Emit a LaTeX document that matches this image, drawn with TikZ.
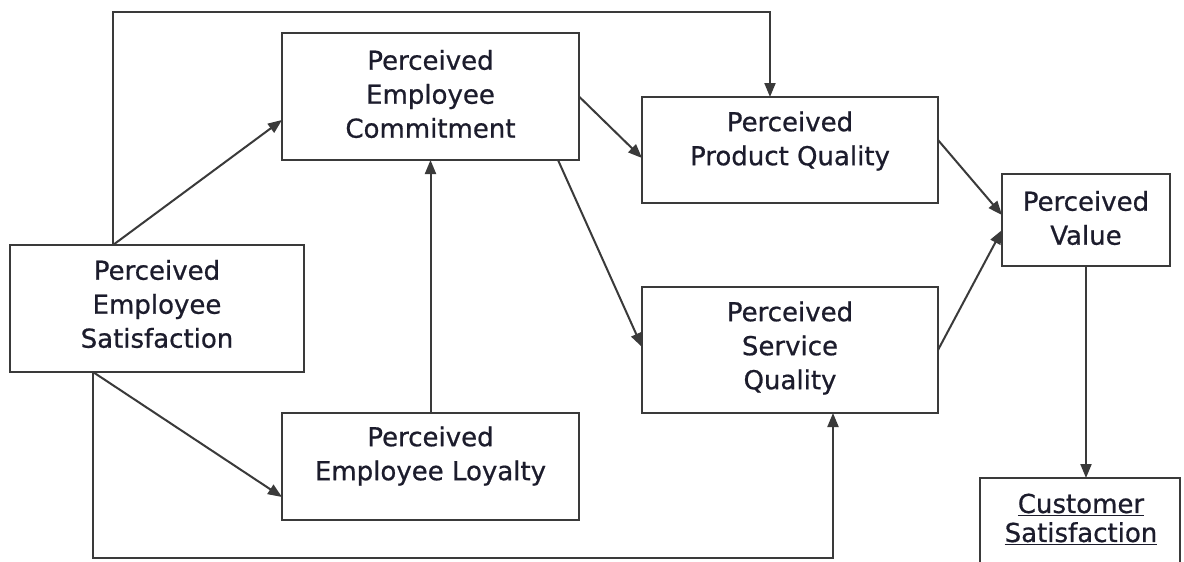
\documentclass[tikz,border=0pt]{standalone}
\usepackage{fontspec}
\setmainfont{DejaVu Sans}
\newfontfamily\lblfont{DejaVu Sans}[FakeBold=0.7]
\usetikzlibrary{arrows.meta,calc}
\definecolor{linec}{HTML}{3A3A3A}
\definecolor{textc}{HTML}{1C1C2C}
\begin{document}
\begin{tikzpicture}[x=1pt,y=-1pt,
  box/.style={draw=linec,line width=2pt,fill=white,inner sep=0pt,outer sep=0pt},
  lbl/.style={text=textc,align=center,inner sep=0pt,font=\lblfont\fontsize{26}{34}\selectfont},
  arr/.style={draw=linec,line width=2pt,-{Triangle[length=14pt,width=11pt]}}]
\useasboundingbox (0,0) rectangle (1184,562);
\clip (0,0) rectangle (1184,562);
\fill[white] (0,0) rectangle (1184,562);
% boxes
\node[box,minimum width=294pt,minimum height=127pt] (pes) at (157,308.5) {};
\node[box,minimum width=297pt,minimum height=127pt] (pec) at (430.5,96.5) {};
\node[box,minimum width=297pt,minimum height=107pt] (pel) at (430.5,466.5) {};
\node[box,minimum width=296pt,minimum height=106pt] (ppq) at (790,150) {};
\node[box,minimum width=296pt,minimum height=126pt] (psq) at (790,350) {};
\node[box,minimum width=168pt,minimum height=92pt] (pv) at (1086,220) {};
\node[box,minimum width=200pt,minimum height=102pt] (cs) at (1080,529) {};
% texts
\node[lbl] (pes-t) at (157,304) {Perceived\\Employee\\Satisfaction};
\node[lbl] (pec-t) at (430.5,94) {Perceived\\Employee\\Commitment};
\node[lbl] (pel-t) at (430.5,456) {Perceived\\Employee Loyalty};
\node[lbl] (ppq-t) at (790,141) {Perceived\\Product Quality};
\node[lbl] (psq-t) at (790,348) {Perceived\\Service\\Quality};
\node[lbl] (pv-t) at (1086,218) {Perceived\\Value};
\node[lbl,font=\lblfont\fontsize{26}{29}\selectfont] (cs-t) at (1081,519) {\underline{Customer}\\\underline{Satisfaction}};
% corner coordinates
\coordinate (tl) at (113,12);
\coordinate (tr) at (770,12);
\coordinate (bl) at (93,558);
\coordinate (br) at (833,558);
% connectors
\draw[arr] ([xshift=103pt]pes.north west) -- (tl) -- (tr) -- (tr |- ppq.north);
\draw[arr] ([xshift=103pt]pes.north west) -- ([yshift=-23.5pt]pec.west);
\draw[arr] ([xshift=83pt]pes.south west) -- ([yshift=-30.5pt]pel.west);
\draw[arr] ([xshift=83pt]pes.south west) -- (bl) -- (br) -- (br |- psq.south);
\draw[arr] (pel.north) -- (pec.south);
\draw[arr] (pec.east) -- ([yshift=-8pt]ppq.west);
\draw[arr] ([xshift=-21pt]pec.south east) -- ([yshift=3pt]psq.west);
\draw[arr] ([yshift=10pt]ppq.east) -- ([yshift=5pt]pv.west);
\draw[arr] (psq.east) -- ([yshift=-10pt]pv.west);
\draw[arr] (pv.south) -- (pv.south |- cs.north);
\end{tikzpicture}
\end{document}
